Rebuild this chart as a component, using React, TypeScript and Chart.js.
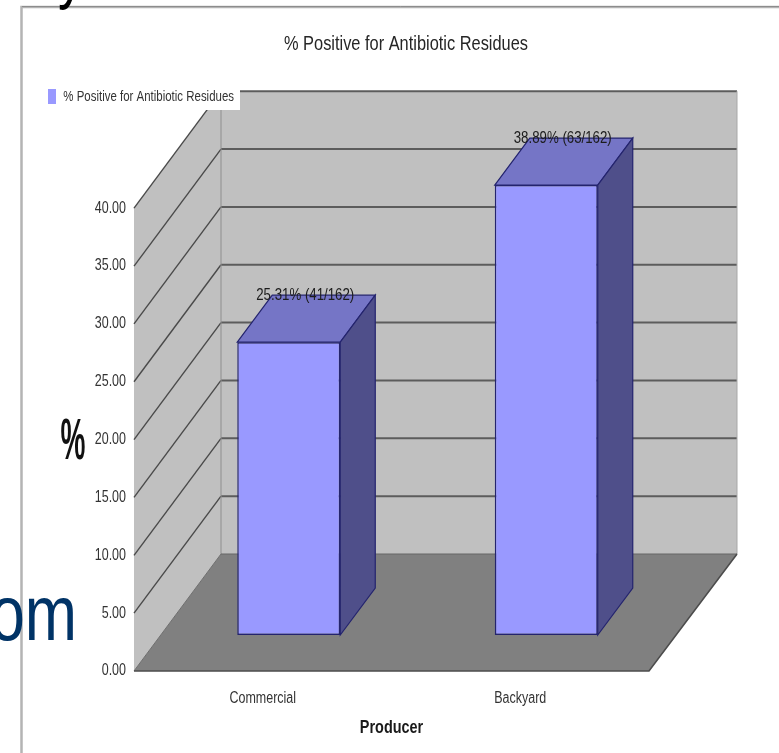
import React, { useEffect, useRef } from "react";
import { Chart, registerables } from "chart.js";

Chart.register(...registerables);

// Survey results by producer type
const categories = ["Commercial", "Backyard"];
const seriesName = "% Positive for Antibiotic Residues";
const percentPositive = [25.31, 38.89];
const barLabels = ["25.31% (41/162)", "38.89% (63/162)"];
const axisTicks = [0, 5, 10, 15, 20, 25, 30, 35, 40];

const SANS = '"Liberation Sans", Arial, sans-serif';
// All lettering is horizontally condensed
const TEXT_SQUEEZE = 0.78;

// Projection of the box: how far the back wall sits from the front plane
const WALL_DX = 87;
const WALL_DY = 117;
// Bars stand part-way into the box and have their own depth
const BAR_SHIFT_X = 26;
const BAR_SHIFT_Y = 36;
const BAR_DX = 35;
const BAR_DY = 47;

function poly(ctx: CanvasRenderingContext2D, pts: number[][], fill: string | null, stroke?: string, lw = 1) {
  ctx.beginPath();
  pts.forEach(([x, y], i) => (i ? ctx.lineTo(x, y) : ctx.moveTo(x, y)));
  ctx.closePath();
  if (fill) {
    ctx.fillStyle = fill;
    ctx.fill();
  }
  if (stroke) {
    ctx.strokeStyle = stroke;
    ctx.lineWidth = lw;
    ctx.stroke();
  }
}

function line(ctx: CanvasRenderingContext2D, pts: number[][], color: string, lw: number) {
  ctx.beginPath();
  pts.forEach(([x, y], i) => (i ? ctx.lineTo(x, y) : ctx.moveTo(x, y)));
  ctx.strokeStyle = color;
  ctx.lineWidth = lw;
  ctx.stroke();
}

// Extra horizontal scaling on top of the general text squeeze
function scaledText(
  ctx: CanvasRenderingContext2D,
  text: string,
  x: number,
  y: number,
  sx: number,
  font: string,
  color: string,
  align: CanvasTextAlign = "left",
) {
  ctx.save();
  ctx.translate(x, y);
  ctx.scale(sx, 1);
  ctx.font = font;
  ctx.fillStyle = color;
  ctx.textAlign = align;
  ctx.textBaseline = "alphabetic";
  ctx.fillText(text, 0, 0);
  ctx.restore();
}

const boxPlugin = {
  id: "box3d",
  afterLayout(chart: any) {
    // Title sits over the middle of the whole box, legend at the upper left
    chart.titleBlock.left = 272;
    chart.titleBlock.right = 540;
    const lg = chart.legend;
    const w = lg.right - lg.left;
    lg.left = 44;
    lg.right = 44 + w;
    const h = lg.bottom - lg.top;
    lg.top = 85;
    lg.bottom = 85 + h;
  },
  beforeDraw(chart: any) {
    const { ctx, chartArea, scales } = chart;
    const { left, right, bottom } = chartArea;
    const y = scales.y;
    const top = y.getPixelForValue(axisTicks[axisTicks.length - 1]);
    ctx.save();

    ctx.fillStyle = "#ffffff";
    ctx.fillRect(0, 0, chart.width, chart.height);

    // Slide frame
    line(ctx, [[21.5, 753], [21.5, 7], [779, 7]], "#b4b4b4", 2.5);
    line(ctx, [[22, 6.5], [779, 6.5]], "#8c8c8c", 1);

    // Lettering of the slide behind the chart
    scaledText(ctx, "y", 58, -5, 0.95, `72px ${SANS}`, "#000000");
    scaledText(ctx, "om", -10, 640, 1.03, `78px ${SANS}`, "#003366");

    // Walls and floor
    const bl = [left + WALL_DX, bottom - WALL_DY];
    const br = [right + WALL_DX + 1, bottom - WALL_DY];
    poly(ctx, [[left, top], [left + WALL_DX, top - WALL_DY], bl, [left, bottom]], "#c0c0c0");
    ctx.fillStyle = "#c0c0c0";
    ctx.fillRect(bl[0], top - WALL_DY, br[0] - bl[0], bottom - top);
    poly(ctx, [[left, bottom], [right, bottom], br, bl], "#808080");

    // Gridlines run along the side wall and across the back wall
    axisTicks.slice(1).forEach((v) => {
      const py = y.getPixelForValue(v);
      line(ctx, [[left, py], [left + WALL_DX, py - WALL_DY]], "#4a4a4a", 1.4);
      line(ctx, [[left + WALL_DX, py - WALL_DY], [br[0], py - WALL_DY]], "#5c5c5c", 2);
    });
    line(ctx, [[bl[0], top - WALL_DY], bl], "#8e8e8e", 1);
    line(ctx, [[br[0], top - WALL_DY], br], "#a8a8a8", 1);
    line(ctx, [bl, br], "#666666", 1.2);
    line(ctx, [[left, bottom], bl], "#6e6e6e", 1);
    line(ctx, [[left, bottom], [right, bottom], br], "#4c4c4c", 1.6);

    // Legend plate
    ctx.fillStyle = "#ffffff";
    ctx.fillRect(44, 84, 196, 26);

    // Axis caption beside the value scale
    scaledText(ctx, "%", 73, 459, 0.62, `bold 58px ${SANS}`, "#111111", "center");
    ctx.restore();
  },
  beforeDatasetsDraw(chart: any) {
    const { ctx } = chart;
    ctx.save();
    ctx.translate(BAR_SHIFT_X, -BAR_SHIFT_Y);
    chart.getDatasetMeta(0).data.forEach((bar: any) => {
      const l = bar.x - bar.width / 2;
      const r = bar.x + bar.width / 2;
      const edge = "#24246e";
      poly(ctx, [[l, bar.y], [l + BAR_DX, bar.y - BAR_DY], [r + BAR_DX, bar.y - BAR_DY], [r, bar.y]], "#7575c6", edge, 1.2);
      poly(ctx, [[r, bar.y], [r + BAR_DX, bar.y - BAR_DY], [r + BAR_DX, bar.base - BAR_DY], [r, bar.base]], "#4f4f8a", edge, 1.2);
    });
  },
  afterDatasetsDraw(chart: any) {
    const { ctx } = chart;
    ctx.restore();
    ctx.save();
    ctx.font = `17px ${SANS}`;
    ctx.fillStyle = "#1c1c1c";
    ctx.textAlign = "center";
    ctx.textBaseline = "middle";
    chart.getDatasetMeta(0).data.forEach((bar: any, i: number) => {
      ctx.fillText(barLabels[i], bar.x + BAR_SHIFT_X + BAR_DX / 2 - 1, bar.y - BAR_SHIFT_Y - BAR_DY);
    });
    ctx.restore();
  },
};

export default function App() {
  const ref = useRef<HTMLCanvasElement>(null);

  useEffect(() => {
    const canvas = ref.current!;
    const c2d = canvas.getContext("2d")!;
    // Every string on this canvas goes through the condensed writer
    const plainFillText = c2d.fillText.bind(c2d);
    c2d.fillText = (text: string, x: number, y: number) => {
      c2d.save();
      c2d.translate(x, y);
      c2d.scale(TEXT_SQUEEZE, 1);
      plainFillText(text, 0, 0);
      c2d.restore();
    };

    const chart = new Chart(canvas, {
      type: "bar",
      data: {
        labels: categories,
        datasets: [
          {
            label: seriesName,
            data: percentPositive,
            backgroundColor: "#9999ff",
            borderColor: "#24246e",
            borderWidth: 1.5,
            borderSkipped: false,
            categoryPercentage: 0.8,
            barPercentage: 0.5,
          },
        ],
      },
      options: {
        responsive: false,
        animation: false,
        layout: { padding: { left: 34, right: 130, top: 0, bottom: 14 } },
        plugins: {
          tooltip: { enabled: false },
          title: {
            display: true,
            text: seriesName,
            color: "#262626",
            font: { family: SANS, size: 21, weight: "normal" },
            padding: { top: 32, bottom: 122 },
          },
          legend: {
            display: true,
            position: "top",
            align: "start",
            labels: {
              color: "#333333",
              font: { family: SANS, size: 14.7 },
              boxWidth: 8,
              boxHeight: 15,
              padding: 4,
              generateLabels: (c: any) =>
                Chart.defaults.plugins.legend.labels.generateLabels(c).map((item: any) => ({ ...item, lineWidth: 0 })),
            },
          },
        },
        scales: {
          x: {
            grid: { display: false },
            border: { display: false },
            afterFit(scale: any) {
              scale.height = 68;
            },
            ticks: {
              color: "#333333",
              font: { family: SANS, size: 16 },
              padding: 10,
              maxRotation: 0,
            },
            title: {
              display: true,
              text: "Producer",
              color: "#1a1a1a",
              font: { family: SANS, size: 18.5, weight: "bold" },
              padding: { top: 8, bottom: 0 },
            },
          },
          y: {
            min: 0,
            max: 40,
            grid: { display: false, drawTicks: false },
            border: { display: false },
            afterFit(scale: any) {
              scale.width = 100;
            },
            afterBuildTicks(scale: any) {
              scale.ticks = axisTicks.map((value) => ({ value }));
            },
            ticks: {
              color: "#333333",
              font: { family: SANS, size: 16 },
              padding: 8,
              callback: (v: any) => Number(v).toFixed(2),
            },
          },
        },
      },
      plugins: [boxPlugin],
    } as any);
    return () => {
      chart.destroy();
      c2d.fillText = plainFillText;
    };
  }, []);

  return (
    <div style={{ position: "absolute", left: 0, top: 0 }}>
      <canvas ref={ref} width={779} height={753} style={{ display: "block" }} />
    </div>
  );
}
